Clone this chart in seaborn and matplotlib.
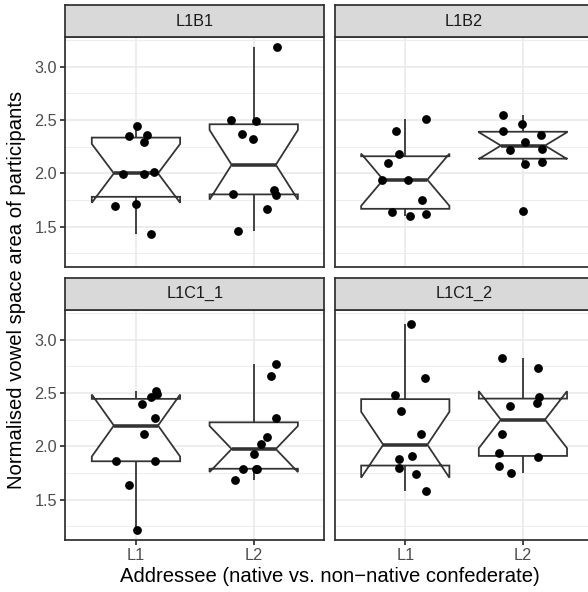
import numpy as np
import pandas as pd
import matplotlib
matplotlib.use("Agg")
import matplotlib.pyplot as plt
from matplotlib.ticker import FixedLocator
import seaborn as sns

# ---------------- data ----------------
panels = ["L1B1", "L1B2", "L1C1_1", "L1C1_2"]
addressees = ["L1", "L2"]

L1B1_L1 = [2.44, 2.35, 2.36, 2.29, 1.99, 1.99, 2.01, 1.69, 1.71, 1.43]
L1B1_L2 = [3.18, 2.50, 2.49, 2.37, 2.32, 1.81, 1.84, 1.80, 1.67, 1.46]
L1B2_L1 = [2.51, 2.40, 2.18, 2.10, 1.94, 1.94, 1.75, 1.64, 1.60, 1.62]
L1B2_L2 = [2.55, 2.46, 2.40, 2.36, 2.29, 2.22, 2.23, 2.09, 2.11, 1.65]
L1C1_1_L1 = [2.52, 2.49, 2.46, 2.40, 2.27, 2.12, 1.86, 1.86, 1.64, 1.22]
L1C1_1_L2 = [2.77, 2.66, 2.27, 2.09, 2.02, 1.93, 1.79, 1.79, 1.68, 1.79]
L1C1_2_L1 = [3.15, 2.64, 2.48, 2.33, 2.12, 1.91, 1.88, 1.80, 1.74, 1.58]
L1C1_2_L2 = [2.83, 2.73, 2.46, 2.41, 2.38, 2.12, 1.94, 1.90, 1.82, 1.75]

# horizontal jitter of each point (category units)
J_L1B1_L1 = [0.01, -0.06, 0.09, 0.07, -0.11, 0.07, 0.15, -0.18, 0.00, 0.13]
J_L1B1_L2 = [0.20, -0.19, 0.02, -0.10, -0.01, -0.18, 0.17, 0.19, 0.11, -0.13]
J_L1B2_L1 = [0.18, -0.08, -0.05, -0.15, -0.20, 0.02, 0.14, -0.11, 0.04, 0.18]
J_L1B2_L2 = [-0.17, -0.01, -0.17, 0.15, 0.02, -0.11, 0.16, 0.02, 0.16, 0.00]
J_L1C1_1_L1 = [0.17, 0.18, 0.13, 0.05, 0.16, 0.07, -0.17, 0.16, -0.06, 0.01]
J_L1C1_1_L2 = [0.19, 0.15, 0.19, 0.11, 0.06, 0.00, -0.09, 0.02, -0.16, 0.03]
J_L1C1_2_L1 = [0.05, 0.17, -0.09, -0.04, 0.13, 0.06, -0.05, -0.05, 0.09, 0.18]
J_L1C1_2_L2 = [-0.18, 0.13, 0.14, 0.12, -0.11, -0.18, -0.20, 0.13, -0.20, -0.10]

values = {
    ("L1B1", "L1"): L1B1_L1, ("L1B1", "L2"): L1B1_L2,
    ("L1B2", "L1"): L1B2_L1, ("L1B2", "L2"): L1B2_L2,
    ("L1C1_1", "L1"): L1C1_1_L1, ("L1C1_1", "L2"): L1C1_1_L2,
    ("L1C1_2", "L1"): L1C1_2_L1, ("L1C1_2", "L2"): L1C1_2_L2,
}
jitters = {
    ("L1B1", "L1"): J_L1B1_L1, ("L1B1", "L2"): J_L1B1_L2,
    ("L1B2", "L1"): J_L1B2_L1, ("L1B2", "L2"): J_L1B2_L2,
    ("L1C1_1", "L1"): J_L1C1_1_L1, ("L1C1_1", "L2"): J_L1C1_1_L2,
    ("L1C1_2", "L1"): J_L1C1_2_L1, ("L1C1_2", "L2"): J_L1C1_2_L2,
}

rows = []
for (p, a), vals in values.items():
    for v, j in zip(vals, jitters[(p, a)]):
        rows.append({"panel": p, "addressee": a, "value": v,
                     "xpos": addressees.index(a) + j})
df = pd.DataFrame(rows)

y_ticks = [1.5, 2.0, 2.5, 3.0]
y_minor = [1.25, 1.75, 2.25, 2.75, 3.25]

xlab = "Addressee (native vs. non\u2212native confederate)"
ylab = "Normalised vowel space area of participants"

# ---------------- styling ----------------
plt.rcParams["font.family"] = ["Liberation Sans", "DejaVu Sans"]

W, H = 588, 592
fig = plt.figure(figsize=(W / 100, H / 100), dpi=100)

grey20 = "#333333"
grey30 = "#4D4D4D"
grey10 = "#1A1A1A"
grey92 = "#EBEBEB"
grey85 = "#D9D9D9"
LW = 1.28
FS_SMALL = 11.7
FS_TITLE = 14.6

def fax(x0, y0, x1, y1):
    return fig.add_axes([x0 / W, 1 - y1 / H, (x1 - x0) / W, (y1 - y0) / H])

col_x = [(65.3, 324.4), (334.7, 593.5)]
row_y = [(37.0, 267.0), (310.0, 540.0)]
strip_y = [(5.3, 37.0), (277.7, 310.0)]

allv = df["value"]
rng = allv.max() - allv.min()
ylim = (allv.min() - 0.05 * rng, allv.max() + 0.05 * rng)

for i, p in enumerate(panels):
    r, c = divmod(i, 2)
    ax = fax(col_x[c][0], row_y[r][0], col_x[c][1], row_y[r][1])
    sub = df[df["panel"] == p]
    sns.boxplot(data=sub, x="addressee", y="value", order=addressees, ax=ax,
                width=0.75, color="white", linecolor=grey20, linewidth=LW,
                notch=True, showcaps=False, showfliers=False,
                medianprops={"linewidth": LW * 2, "color": grey20},
                saturation=1)
    sns.scatterplot(data=sub, x="xpos", y="value", ax=ax, color="black",
                    s=40, linewidth=0, legend=False, zorder=4)
    ax.set_xlim(-0.6, 1.6)
    ax.set_ylim(*ylim)
    ax.set_xticks(range(len(addressees)))
    ax.set_xticklabels(addressees)
    ax.yaxis.set_major_locator(FixedLocator(y_ticks))
    ax.yaxis.set_minor_locator(FixedLocator(y_minor))
    ax.set_yticklabels([f"{t:.1f}" for t in y_ticks])
    ax.set_axisbelow(True)
    ax.grid(which="major", color=grey92, linewidth=LW)
    ax.grid(which="minor", axis="y", color=grey92, linewidth=LW / 2)
    ax.tick_params(which="minor", length=0)
    ax.tick_params(which="major", length=3.6, width=LW, color=grey20,
                   labelcolor=grey30, labelsize=FS_SMALL, pad=2.4)
    ax.set_xlabel("")
    ax.set_ylabel("")
    ax.set_facecolor("white")
    for s in ax.spines.values():
        s.set_color(grey20)
        s.set_linewidth(LW)
        s.set_zorder(6)
    if r == 0:
        ax.tick_params(axis="x", length=0, labelbottom=False)
    if c == 1:
        ax.tick_params(axis="y", length=0, labelleft=False)

    sax = fax(col_x[c][0], strip_y[r][0], col_x[c][1], strip_y[r][1])
    sax.set_facecolor(grey85)
    sax.set_xticks([])
    sax.set_yticks([])
    for s in sax.spines.values():
        s.set_color(grey20)
        s.set_linewidth(LW)
    sax.text(0.5, 0.5, p, transform=sax.transAxes, ha="center", va="center",
             fontsize=FS_SMALL, color=grey10)

fig.text(329.4 / W, 1 - 577 / H, xlab, ha="center", va="center",
         fontsize=FS_TITLE, color="black")
fig.text(17 / W, 1 - 290 / H, ylab, ha="center", va="center",
         rotation=90, fontsize=FS_TITLE, color="black")

fig.savefig("out.png", dpi=100, facecolor="white")
